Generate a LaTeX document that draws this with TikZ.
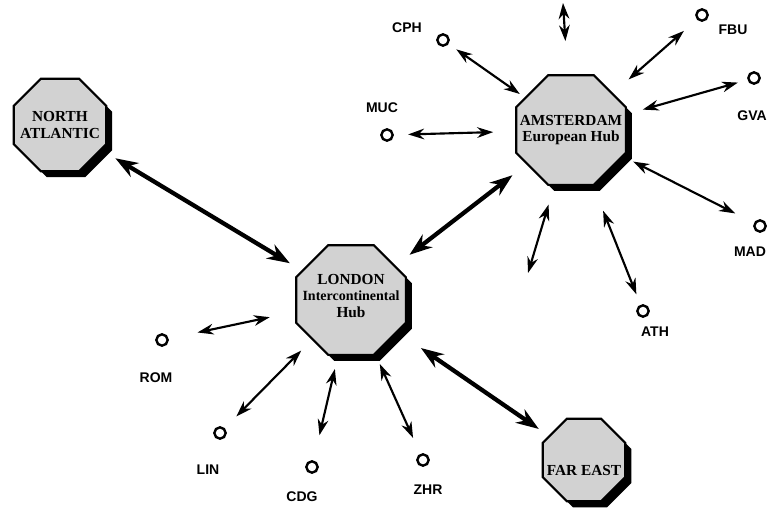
\documentclass[tikz,border=0pt]{standalone}
\usepackage{fontspec}
\setmainfont{Liberation Serif}
\newfontfamily\labfont{Liberation Sans}
\usetikzlibrary{shapes.geometric,arrows.meta,calc,shadows}
\begin{document}
\begin{tikzpicture}[x=0.75pt,y=-0.75pt,
  hub/.style={regular polygon, regular polygon sides=8, draw=black, line width=1.6pt,
    fill=gray!35, inner sep=0pt,
    drop shadow={shadow xshift=4.5pt, shadow yshift=-4.5pt, fill=black, opacity=1}},
  hubtxt/.style={font=\bfseries\fontsize{11.5}{12.5}\selectfont, align=center, text=black},
  airport/.style={circle, draw=black, line width=1.8pt, minimum size=8.5pt, inner sep=0pt, fill=white},
  lab/.style={font=\labfont\bfseries\fontsize{10.5}{12}\selectfont},
  arr/.style={{Stealth[length=12pt,width=8pt]}-{Stealth[length=12pt,width=8pt]}, line width=1.6pt},
  bigarr/.style={{Stealth[length=17pt,width=12pt]}-{Stealth[length=17pt,width=12pt]}, line width=3.2pt}
]
\useasboundingbox (0,0) rectangle (771,514);

% hubs
\node[hub, minimum size=75pt, label={[hubtxt]center:{NORTH\\ATLANTIC}}] (nat) at (60,125) {};
\node[hub, minimum size=89pt, label={[hubtxt]center:{AMSTERDAM\\European Hub}}] (ams) at (571,130) {};
\node[hub, minimum size=89pt, label={[hubtxt, yshift=3pt]center:{LONDON\\{\fontsize{10.5}{12.5}\selectfont Intercontinental}\\Hub}}] (lon) at (351,300) {};
\node[hub, minimum size=67pt, label={[hubtxt, yshift=-8pt]center:{FAR EAST}}] (fe) at (584,460) {};

% airports
\node[airport] (cph) at (443,40) {};
\node[airport] (fbu) at (702,15) {};
\node[airport] (gva) at (754,78) {};
\node[airport] (muc) at (387,135) {};
\node[airport] (mad) at (760,226) {};
\node[airport] (ath) at (643,311) {};
\node[airport] (rom) at (162,340) {};
\node[airport] (lin) at (220,433) {};
\node[airport] (cdg) at (312,467) {};
\node[airport] (zhr) at (423,460) {};

% airport labels
\node[lab] (cphL) at (407,28) {CPH};
\node[lab] (fbuL) at (733,30) {FBU};
\node[lab] (gvaL) at (752,116) {GVA};
\node[lab] (mucL) at (382,108) {MUC};
\node[lab] (madL) at (750,252) {MAD};
\node[lab] (athL) at (655,332) {ATH};
\node[lab] (romL) at (156,378) {ROM};
\node[lab] (linL) at (208,470) {LIN};
\node[lab] (cdgL) at (302,497) {CDG};
\node[lab] (zhrL) at (428,490) {ZHR};

% free ends
\coordinate (topEnd) at (563,3);
\coordinate (swEnd) at (528,273);

% Amsterdam spokes
\draw[arr] ($(cph)!0.104!(ams)$) -- ($(cph)!0.60!(ams)$);
\draw[arr] ($(fbu)!0.138!(ams)$) -- ($(fbu)!0.56!(ams)$);
\draw[arr] ($(gva)!0.088!(ams)$) -- ($(gva)!0.608!(ams)$);
\draw[arr] ($(muc)!0.115!(ams)$) -- ($(muc)!0.577!(ams)$);
\draw[arr] ($(mad)!0.131!(ams)$) -- ($(mad)!0.671!(ams)$);
\draw[arr] ($(ath)!0.092!(ams)$) -- ($(ath)!0.554!(ams)$);
\draw[arr] (topEnd) -- ($(topEnd)!0.30!(ams)$);
\draw[arr] (swEnd) -- ($(swEnd)!0.479!(ams)$);

% London spokes
\draw[arr] ($(rom)!0.188!(lon)$) -- ($(rom)!0.57!(lon)$);
\draw[arr] ($(lin)!0.125!(lon)$) -- ($(lin)!0.62!(lon)$);
\draw[arr] ($(cdg)!0.19!(lon)$) -- ($(cdg)!0.587!(lon)$);
\draw[arr] ($(zhr)!0.138!(lon)$) -- ($(zhr)!0.60!(lon)$);

% hub links
\draw[bigarr] ($(nat)!0.19!(lon)$) -- ($(nat)!0.79!(lon)$);
\draw[bigarr] ($(lon)!0.266!(ams)$) -- ($(lon)!0.734!(ams)$);
\draw[bigarr] ($(lon)!0.30!(fe)$) -- ($(lon)!0.806!(fe)$);
\end{tikzpicture}
\end{document}
